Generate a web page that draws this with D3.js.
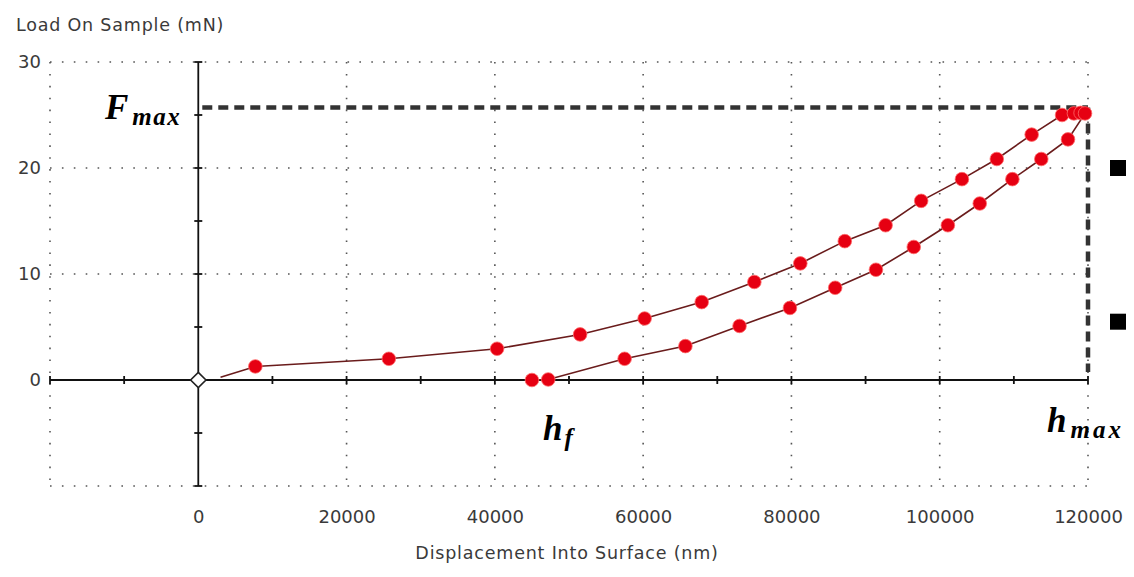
<!DOCTYPE html>
<html>
<head>
<meta charset="utf-8">
<script src="https://cdn.jsdelivr.net/npm/d3@7"></script>
<style>
  body { margin: 0; background: #fff; }
  svg { display: block; }
  .tick-label { font-family: "DejaVu Sans", sans-serif; font-size: 18px; fill: #3a3a3a; }
  .title { font-family: "DejaVu Sans", sans-serif; font-size: 17.5px; fill: #3a3a3a; letter-spacing: 0.8px; }
  .math { font-family: "Liberation Serif", "DejaVu Serif", serif; font-weight: bold; font-style: italic; fill: #000; }
</style>
</head>
<body>
<svg id="chart" width="1134" height="577"></svg>
<script>
// indentation curve
const loadX = [7700, 25700, 40300, 51500, 60200, 67900, 75000, 81200, 87200, 92700, 97500, 103000, 107700, 112400, 116500, 118100, 119000];
const loadY = [1.28, 2.0, 2.95, 4.3, 5.8, 7.35, 9.25, 11.0, 13.1, 14.6, 16.9, 18.95, 20.85, 23.15, 25.0, 25.15, 25.2];
const unloadX = [119600, 117300, 113700, 109800, 105400, 101100, 96500, 91400, 85900, 79800, 73000, 65700, 57500, 47200, 45000];
const unloadY = [25.15, 22.7, 20.85, 18.95, 16.65, 14.6, 12.55, 10.4, 8.7, 6.8, 5.1, 3.2, 2.0, 0.05, 0.0];
const lineStart = [3000, 0.25];   // curve begins here, no marker

const xTickLabels = [0, 20000, 40000, 60000, 80000, 100000, 120000];
const yTickLabels = [0, 10, 20, 30];
const xGrid = [-20000, 20000, 40000, 60000, 80000, 100000, 120000];
const yGrid = [-10, 10, 20, 30];

const fMax = 25.7;
const hMax = 120000;

const svg = d3.select("#chart");

const xScale = d3.scaleLinear().domain([-20000, 120000]).range([50, 1088]);
const yScale = d3.scaleLinear().domain([-10, 30]).range([486, 62]);

// dotted grid
let grid = svg.append("g").attr("class", "grid")
    .attr("stroke", "#555").attr("stroke-width", 1.6).attr("stroke-dasharray", "1.6,10.3");
grid.selectAll("line.gx").data(xGrid).enter()
    .append("line").attr("class", "gx")
    .attr("x1", d => xScale(d)).attr("x2", d => xScale(d))
    .attr("y1", yScale(30)).attr("y2", yScale(-10));
grid.selectAll("line.gy").data(yGrid).enter()
    .append("line").attr("class", "gy")
    .attr("x1", xScale(-20000)).attr("x2", xScale(120000))
    .attr("y1", d => yScale(d)).attr("y2", d => yScale(d));

// solid axes through the origin
let axes = svg.append("g").attr("stroke", "#111").attr("stroke-width", 1.8);
axes.append("line")
    .attr("x1", xScale(-20000)).attr("x2", xScale(120000))
    .attr("y1", yScale(0)).attr("y2", yScale(0));
axes.append("line")
    .attr("x1", xScale(0)).attr("x2", xScale(0))
    .attr("y1", yScale(30)).attr("y2", yScale(-10));
axes.selectAll("line.xt").data(d3.range(-20000, 120001, 10000)).enter()
    .append("line").attr("class", "xt")
    .attr("x1", d => xScale(d)).attr("x2", d => xScale(d))
    .attr("y1", yScale(0) - 4).attr("y2", yScale(0) + 4);
axes.selectAll("line.yt").data(d3.range(-10, 31, 5)).enter()
    .append("line").attr("class", "yt")
    .attr("x1", xScale(0) - 4).attr("x2", xScale(0) + 4)
    .attr("y1", d => yScale(d)).attr("y2", d => yScale(d));

// tick labels
let xAxis = d3.axisBottom(xScale).tickValues(xTickLabels).tickSize(0).tickPadding(24).tickFormat(d3.format("d"));
svg.append("g")
    .attr("transform", `translate(0,${yScale(-10)})`)
    .call(xAxis)
    .call(g => g.select(".domain").remove())
    .selectAll("text").attr("class", "tick-label");

let yAxis = d3.axisLeft(yScale).tickValues(yTickLabels).tickSize(0).tickPadding(9);
svg.append("g")
    .attr("transform", `translate(${xScale(-20000)},0)`)
    .call(yAxis)
    .call(g => g.select(".domain").remove())
    .selectAll("text").attr("class", "tick-label");

// axis titles
svg.append("text").attr("class", "title")
    .attr("x", 16).attr("y", 31)
    .text("Load On Sample (mN)");
svg.append("text").attr("class", "title")
    .attr("x", 567).attr("y", 559).attr("text-anchor", "middle")
    .text("Displacement Into Surface (nm)");

// Fmax / hmax dashed guides
let guide = svg.append("g").attr("fill", "none").attr("stroke", "#333")
    .attr("stroke-width", 4.5).attr("stroke-dasharray", "10,6");
guide.append("line")
    .attr("x1", xScale(0) + 4).attr("x2", xScale(hMax))
    .attr("y1", yScale(fMax)).attr("y2", yScale(fMax));
guide.append("line")
    .attr("x1", xScale(hMax)).attr("x2", xScale(hMax))
    .attr("y1", yScale(fMax)).attr("y2", yScale(0) - 8);

// curve
let pts = [lineStart].concat(loadX.map((d, i) => [d, loadY[i]]), unloadX.map((d, i) => [d, unloadY[i]]));
let line = d3.line().x(d => xScale(d[0])).y(d => yScale(d[1]));
svg.append("path").datum(pts)
    .attr("d", line)
    .attr("fill", "none")
    .attr("stroke", "#6a1c1c")
    .attr("stroke-width", 1.6);

let markers = loadX.map((d, i) => [d, loadY[i]]).concat(unloadX.map((d, i) => [d, unloadY[i]]));
svg.append("g").selectAll("circle")
    .data(markers).enter()
    .append("circle")
    .attr("cx", d => xScale(d[0]))
    .attr("cy", d => yScale(d[1]))
    .attr("r", 6.8)
    .attr("fill", "#e60012")
    .attr("stroke", "#ff6a6a")
    .attr("stroke-width", 0.8);

// origin marker
svg.append("path")
    .attr("d", d3.symbol().type(d3.symbolDiamond2).size(150)())
    .attr("transform", `translate(${xScale(0)},${yScale(0)})`)
    .attr("fill", "#fff").attr("stroke", "#222").attr("stroke-width", 1.6);

// math labels
let fl = svg.append("text").attr("class", "math").attr("x", 105).attr("y", 119).style("font-size", "35px");
fl.append("tspan").text("F");
fl.append("tspan").attr("dy", 6).attr("dx", 4).style("font-size", "25px").attr("letter-spacing", 1.5).text("max");

let hf = svg.append("text").attr("class", "math").attr("x", 543).attr("y", 440).style("font-size", "35px");
hf.append("tspan").text("h");
hf.append("tspan").attr("dy", 6).attr("dx", 2).style("font-size", "25px").text("f");

let hm = svg.append("text").attr("class", "math").attr("x", 1047).attr("y", 432).style("font-size", "35px");
hm.append("tspan").text("h");
hm.append("tspan").attr("dy", 6).attr("dx", 4).style("font-size", "25px").attr("letter-spacing", 3).text("max");

// small black squares at the right edge
svg.append("g").selectAll("rect")
    .data([20, 5.5]).enter()
    .append("rect")
    .attr("x", 1110).attr("y", d => yScale(d) - 8)
    .attr("width", 16).attr("height", 16)
    .attr("fill", "#000");
</script>
</body>
</html>
